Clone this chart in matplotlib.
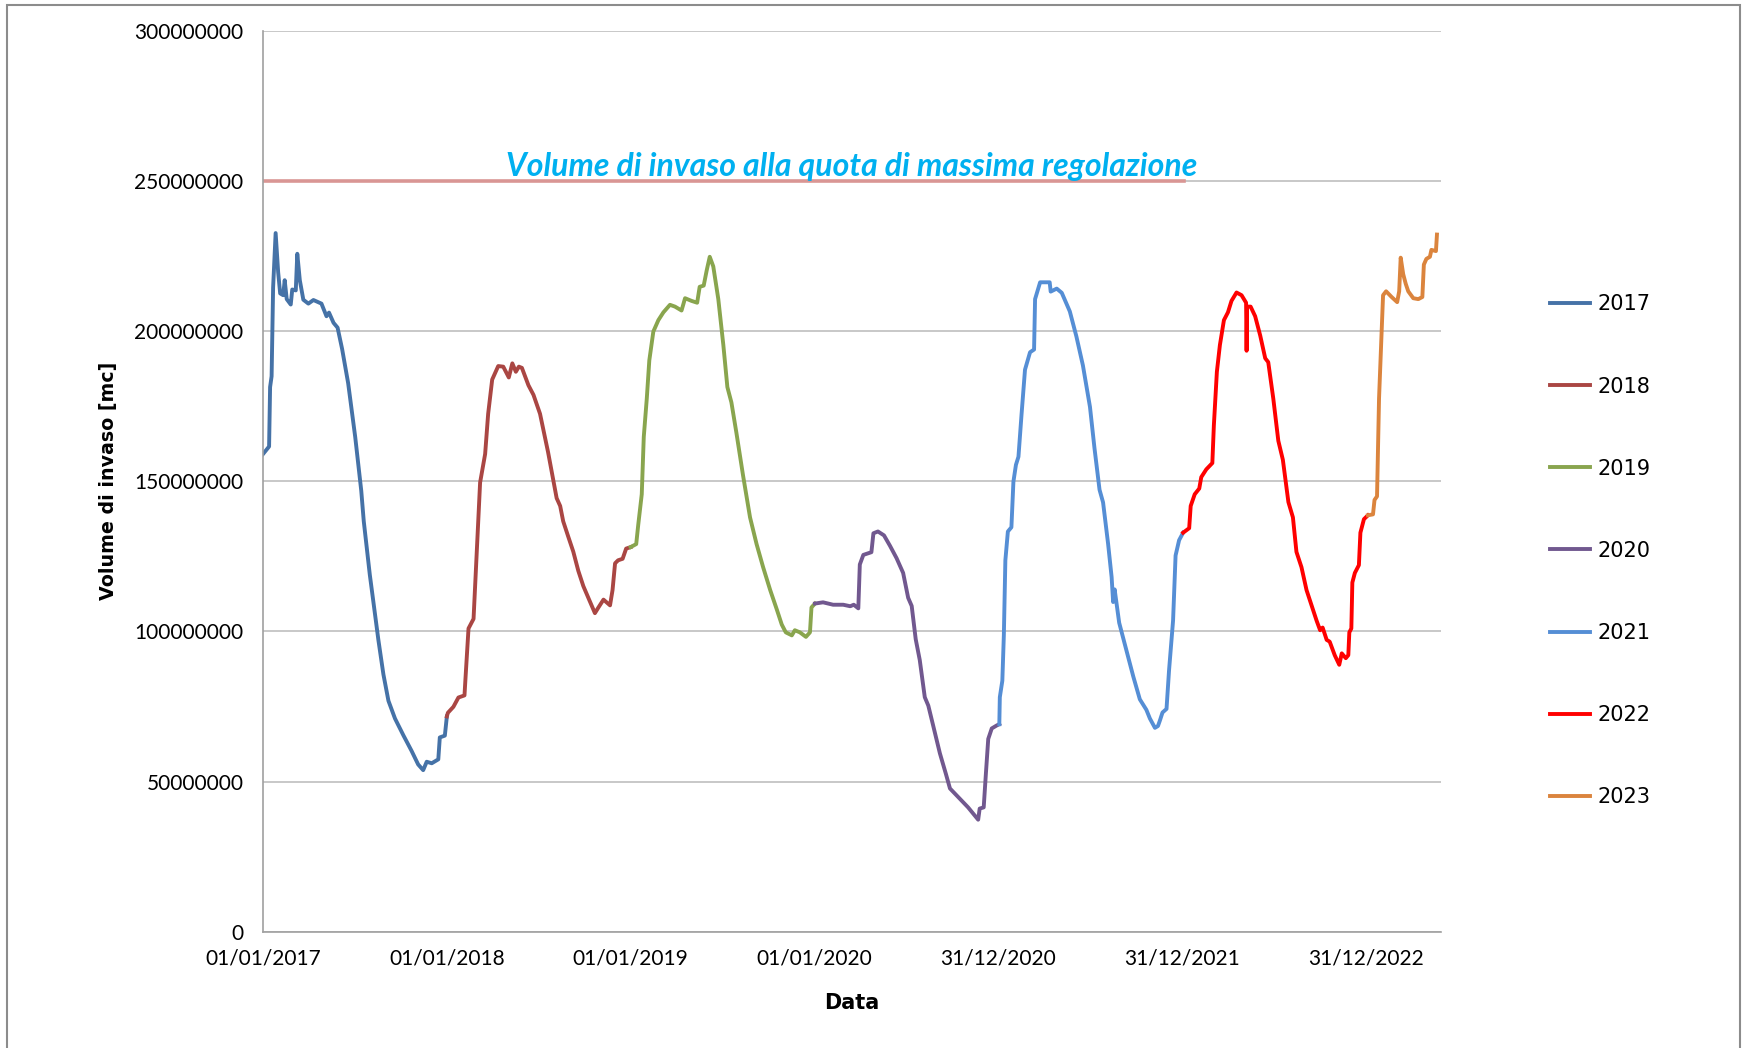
import datetime as dt

import matplotlib
matplotlib.use("Agg")
import matplotlib.pyplot as plt
import matplotlib.dates as mdates
from matplotlib.lines import Line2D
from matplotlib.patches import Rectangle

plt.rcParams['font.family'] = ['Lato', 'DejaVu Sans']

# giorni a partire dal 01/01/2017, volume in milioni di mc
DAY0 = dt.date(2017, 1, 1)

giorni_2017 = [0, 12, 14, 17, 20, 25, 30, 34, 40, 43, 47, 55, 58, 65, 68, 73, 80, 90, 100,
               116, 126, 131, 140, 148, 157, 169, 183, 195, 200, 212, 224, 229, 239, 249,
               262, 279, 295, 308, 318, 325, 335, 348, 351, 361, 365]
volume_2017 = [159.1, 161.6, 181.4, 185, 214.6, 232.7, 219.7, 212.6, 212, 217, 210.7, 208.9,
               213.9, 213.6, 225.8, 217, 210.5, 209.2, 210.4, 209.2, 205, 206.2, 202.8, 201.2,
               194.1, 182.7, 164.8, 146.9, 136.7, 118.9, 103.6, 97.2, 85.7, 76.9, 71, 65.3,
               60.2, 55.7, 53.8, 56.6, 56.1, 57.4, 64.7, 65.3, 71.7]

giorni_2018 = [365, 367, 378, 388, 400, 402, 408, 418, 424, 431, 441, 447, 455, 467, 477, 488,
               495, 502, 508, 514, 527, 537, 550, 566, 583, 590, 596, 606, 616, 626, 636, 649,
               659, 666, 676, 689, 694, 699, 705, 714, 721, 730]
volume_2018 = [71.7, 72.9, 74.9, 78, 78.7, 84.4, 101, 104.2, 125.2, 149.6, 159.1, 172.5, 183.9,
               188.4, 188.2, 184.6, 189.3, 186.5, 188.2, 187.8, 182, 178.8, 172.5, 159.7, 144.4,
               141.8, 136.7, 131.6, 126.6, 120.2, 115.1, 110, 106.1, 108, 110.6, 108.7, 113.8,
               122.7, 123.7, 124.2, 127.6, 128.1]

giorni_2019 = [730, 741, 745, 752, 756, 762, 767, 775, 785, 795, 808, 818, 831, 838, 851, 862,
               867, 875, 881, 887, 894, 904, 914, 922, 930, 940, 953, 967, 980, 993, 1007, 1020,
               1030, 1038, 1050, 1056, 1066, 1078, 1086, 1089, 1096]
volume_2019 = [128.1, 129.1, 135.5, 145.7, 164.8, 177.6, 190.3, 199.9, 203.7, 206.3, 208.8,
               208.2, 206.9, 211, 210.1, 209.5, 214.8, 215.2, 220.3, 224.8, 221.6, 210.7, 195.4,
               181.4, 176.3, 166.1, 152.1, 138, 129.1, 121.4, 113.8, 107.4, 102.3, 99.7, 98.7,
               100.4, 99.7, 98.2, 99.7, 108, 109.3]

giorni_2020 = [1096, 1112, 1132, 1152, 1166, 1173, 1182, 1185, 1192, 1208, 1212, 1221, 1233,
               1245, 1258, 1271, 1281, 1288, 1296, 1304, 1314, 1321, 1331, 1344, 1356, 1364,
               1380, 1400, 1420, 1423, 1431, 1435, 1440, 1447, 1457, 1462]
volume_2020 = [109.3, 109.7, 108.9, 108.9, 108.4, 108.9, 107.7, 122.3, 125.5, 126.4, 132.7,
               133.3, 132, 128.5, 124.4, 119.5, 111.2, 108.5, 97.4, 90.5, 78.1, 75.3, 68.4, 59.4,
               52.5, 47.7, 44.9, 41.4, 37.3, 41.0, 41.4, 51.8, 64.2, 67.7, 68.7, 69.1]

giorni_2021 = [1462, 1463, 1468, 1471, 1474, 1479, 1486, 1490, 1495, 1500, 1506, 1513, 1523,
               1531, 1533, 1543, 1562, 1564, 1576, 1586, 1602, 1615, 1628, 1642, 1651, 1661,
               1668, 1678, 1685, 1688, 1691, 1700, 1715, 1728, 1741, 1754, 1761, 1771, 1777,
               1781, 1786, 1794, 1799, 1807, 1812, 1819, 1827]
volume_2021 = [69.1, 78.1, 83.6, 98.8, 123.7, 133.3, 134.7, 149.9, 155.5, 158.2, 172, 187.2,
               193, 193.9, 210.7, 216.3, 216.3, 213.2, 214.2, 212.8, 206.6, 198.3, 188.6, 174.8,
               161, 147.2, 143, 129.2, 118.1, 109.8, 114, 102.9, 93.3, 85, 77.4, 73.9, 71, 67.9,
               68.5, 70.4, 73, 74.2, 87, 103.6, 125.3, 130.4, 132.9]

giorni_2022 = [1827, 1839, 1842, 1850, 1859, 1863, 1873, 1885, 1888, 1894, 1900, 1908, 1916,
               1923, 1933, 1943, 1952, 1953, 1954, 1961, 1970, 1980, 1990, 1996, 2006, 2016,
               2025, 2036, 2045, 2052, 2062, 2072, 2082, 2092, 2099, 2104, 2112, 2118, 2128,
               2137, 2142, 2150, 2155, 2157, 2161, 2163, 2168, 2176, 2179, 2186, 2194]
volume_2022 = [132.9, 134.4, 141.8, 145.7, 147.6, 151.4, 154, 156.1, 168.6, 186.5, 195.4,
               203.7, 206.3, 210.1, 212.9, 212, 209.5, 193.5, 208.2, 208.2, 205, 198.6, 191,
               189.7, 177.6, 163.5, 157.2, 143.1, 138, 126.5, 121.4, 113.8, 108.7, 103.6, 100.4,
               101.3, 97.2, 96.6, 92.1, 88.9, 92.7, 91.1, 92.1, 99.7, 101, 116.3, 119.5, 122.1,
               132.9, 137.4, 138.7]

giorni_2023 = [2194, 2204, 2207, 2212, 2216, 2221, 2224, 2230, 2241, 2252, 2256, 2259, 2264,
               2269, 2274, 2284, 2294, 2302, 2305, 2310, 2317, 2320, 2329, 2331]
volume_2023 = [138.7, 139, 143.8, 145, 177.6, 199.2, 212, 213.3, 211.4, 209.7, 213.3, 224.5,
               219, 215.8, 213.3, 211, 210.7, 211.4, 222.2, 224.1, 224.8, 227.1, 226.7, 232.2]

anni = ['2017', '2018', '2019', '2020', '2021', '2022', '2023']
giorni = [giorni_2017, giorni_2018, giorni_2019, giorni_2020, giorni_2021, giorni_2022, giorni_2023]
volumi = [volume_2017, volume_2018, volume_2019, volume_2020, volume_2021, volume_2022, volume_2023]
colori = ['#4572A7', '#AA4643', '#89A54E', '#71588F', '#558ED5', '#FF0000', '#DB843D']

volume_max_regolazione = 250e6
fine_linea_regolazione = 1828  # giorni
testo_regolazione = 'Volume di invaso alla quota di massima regolazione'


def to_date(d):
    return DAY0 + dt.timedelta(days=d)


fig = plt.figure(figsize=(17.42, 10.48), dpi=100)
ax = fig.add_axes([0.1510, 0.1110, 0.6762, 0.8594])

for anno, gg, vv, col in zip(anni, giorni, volumi, colori):
    ax.plot([to_date(g) for g in gg], [v * 1e6 for v in vv], color=col, lw=2.8,
            label=anno, solid_joinstyle='round')

ax.plot([to_date(0), to_date(fine_linea_regolazione)],
        [volume_max_regolazione, volume_max_regolazione], color='#D99694', lw=2.6, zorder=1)
ax.text(to_date(1169), 255e6, testo_regolazione, color='#00B0F0', fontsize=23,
        fontweight='bold', fontstyle='italic', ha='center', va='center')

ax.set_ylim(0, 300e6)
ax.set_yticks([i * 50e6 for i in range(7)])
ax.set_yticklabels([str(int(i * 50e6)) for i in range(7)])
ax.set_xlim(to_date(0), to_date(2339))
ax.set_xticks([to_date(365 * k) for k in range(7)])
ax.xaxis.set_major_formatter(mdates.DateFormatter('%d/%m/%Y'))

ax.grid(axis='y', color='#BFBFBF', lw=1.2)
ax.set_axisbelow(True)
for s in ['top', 'right']:
    ax.spines[s].set_visible(False)
for s in ['left', 'bottom']:
    ax.spines[s].set_color('#A0A0A0')
    ax.spines[s].set_linewidth(1.2)
ax.tick_params(axis='both', length=0, labelsize=15, colors='black')
ax.tick_params(axis='y', pad=14)
ax.tick_params(axis='x', pad=12)

ax.set_ylabel('Volume di invaso [mc]', fontsize=13.7, fontweight='bold',
              family=['DejaVu Sans'])
ax.yaxis.set_label_coords(-0.123, 0.5)
ax.set_xlabel('Data', fontsize=15, fontweight='bold', family=['DejaVu Sans'])
ax.xaxis.set_label_coords(0.5, -0.079)
ax.xaxis.label.set_va('center')

handles = [Line2D([], [], color=c, lw=2.8) for c in colori]
fig.legend(handles, anni, loc='center left', bbox_to_anchor=(0.8898, 0.4745),
           frameon=False, prop={'family': 'DejaVu Sans', 'size': 15},
           handlelength=1.9, handletextpad=0.4, labelspacing=2.98,
           borderpad=0, borderaxespad=0)

fig.patches.append(Rectangle((7 / 1742, -0.01), (1740 - 7) / 1742, 1.01 - 5 / 1048,
                             transform=fig.transFigure, fill=False,
                             edgecolor='#8C8C8C', lw=1.5))

fig.savefig('out.png', dpi=100)
